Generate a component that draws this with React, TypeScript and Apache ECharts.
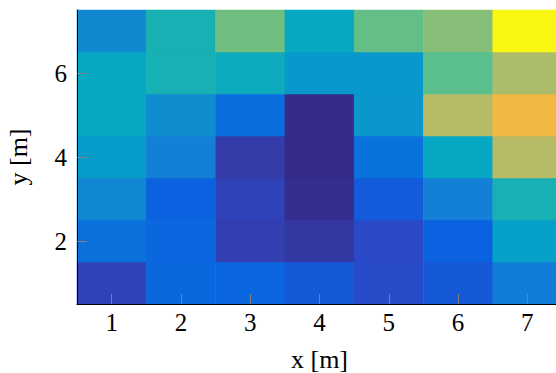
import { useEffect, useRef } from 'react';
import * as echarts from 'echarts';

const xCategories = ['1', '2', '3', '4', '5', '6', '7'];
const yCategories = ['1', '2', '3', '4', '5', '6', '7'];

// values per row, columns x = 1..7
const rowY1 = [0.065, 0.17, 0.165, 0.13, 0.095, 0.13, 0.24];
const rowY2 = [0.195, 0.165, 0.055, 0.035, 0.09, 0.15, 0.36];
const rowY3 = [0.27, 0.15, 0.065, 0.01, 0.135, 0.245, 0.45];
const rowY4 = [0.34, 0.25, 0.045, 0.0, 0.2, 0.4, 0.71];
const rowY5 = [0.4, 0.29, 0.19, 0.002, 0.325, 0.71, 0.8];
const rowY6 = [0.4, 0.45, 0.42, 0.33, 0.33, 0.555, 0.69];
const rowY7 = [0.278, 0.45, 0.6, 0.4, 0.575, 0.635, 0.99];

const rows = [rowY1, rowY2, rowY3, rowY4, rowY5, rowY6, rowY7];

// parula-like colormap, evenly spaced stops
const parula = [
  '#352a87', '#343ead', '#284ccd', '#0a62e0', '#0a72dc', '#1480d5', '#0c90ce',
  '#069ec9', '#06a8c3', '#17b0b3', '#32b8a0', '#58be8e', '#70be80', '#91be74',
  '#b2bb68', '#d2b958', '#f0b842', '#fdc334', '#fad428', '#f8e81c', '#f9fb0e',
];

const FONT = 'Liberation Serif';

export default function App() {
  const ref = useRef<HTMLDivElement>(null);
  useEffect(() => {
    if (!ref.current) return;
    const chart = echarts.init(ref.current, undefined, { renderer: 'svg' });
    const data: number[][] = [];
    rows.forEach((row, yi) => row.forEach((v, xi) => data.push([xi, yi, v])));
    chart.setOption({
      animation: false,
      backgroundColor: '#ffffff',
      grid: { left: 77, top: 10, width: 485, height: 294, containLabel: false, outerBoundsMode: 'none' },
      visualMap: { show: false, min: 0, max: 1, dimension: 2, inRange: { color: parula } },
      xAxis: {
        type: 'category',
        data: xCategories,
        z: 10,
        axisLine: { show: true, lineStyle: { color: '#000', width: 1 } },
        axisTick: { show: true, inside: true, length: 10, alignWithLabel: true, lineStyle: { color: '#808080' } },
        axisLabel: { fontSize: 25, fontFamily: FONT, color: '#000', margin: 6 },
        splitLine: { show: false },
        name: 'x [m]',
        nameLocation: 'middle',
        nameGap: 42,
        nameTextStyle: { fontSize: 26, fontFamily: FONT, color: '#000' },
      },
      yAxis: {
        type: 'category',
        data: yCategories,
        z: 10,
        axisLine: { show: true, lineStyle: { color: '#000', width: 1 } },
        axisTick: {
          show: true, inside: true, length: 10, alignWithLabel: true,
          interval: (i: number) => i % 2 === 1,
          lineStyle: { color: '#808080' },
        },
        axisLabel: {
          fontSize: 25, fontFamily: FONT, color: '#000', margin: 10,
          interval: (i: number) => i % 2 === 1,
        },
        splitLine: { show: false },
        name: 'y [m]',
        nameLocation: 'middle',
        nameGap: 46,
        nameTextStyle: { fontSize: 26, fontFamily: FONT, color: '#000' },
      },
      series: [
        {
          type: 'heatmap',
          data,
          itemStyle: { borderWidth: 0 },
          emphasis: { disabled: true },
        },
      ],
    });
    return () => chart.dispose();
  }, []);
  return <div ref={ref} style={{ position: 'fixed', left: 0, top: 0, width: 556, height: 373 }} />;
}
